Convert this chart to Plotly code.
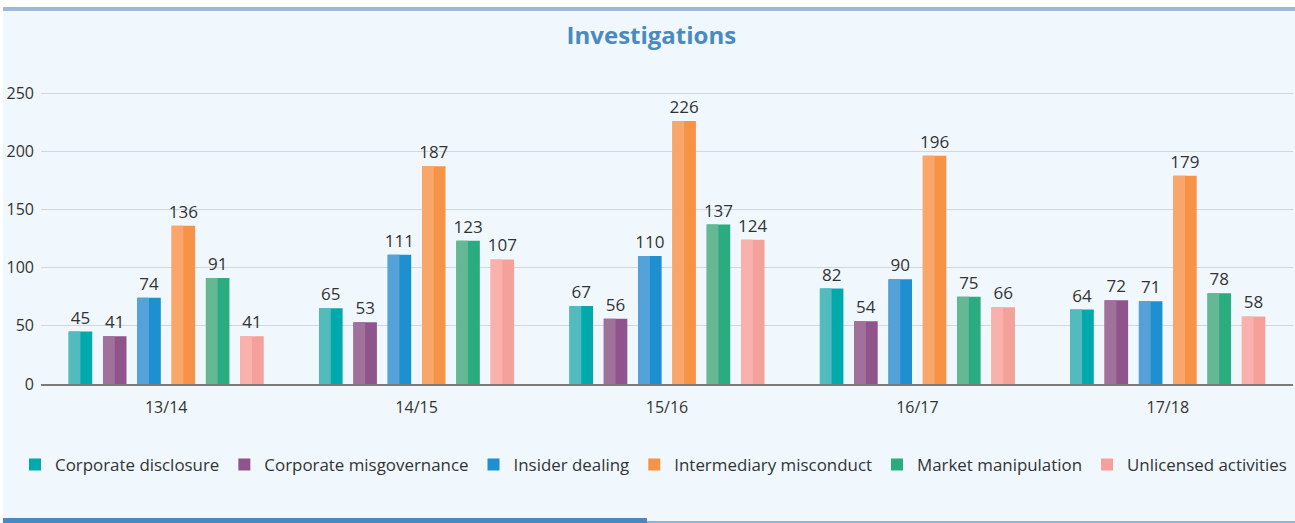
import plotly.graph_objects as go

categories = ["13/14", "14/15", "15/16", "16/17", "17/18"]
series_names = ["Corporate disclosure", "Corporate misgovernance", "Insider dealing",
                "Intermediary misconduct", "Market manipulation", "Unlicensed activities"]
corporate_disclosure = [45, 65, 67, 82, 64]
corporate_misgovernance = [41, 53, 56, 54, 72]
insider_dealing = [74, 111, 110, 90, 71]
intermediary_misconduct = [136, 187, 226, 196, 179]
market_manipulation = [91, 123, 137, 75, 78]
unlicensed_activities = [41, 107, 124, 66, 58]
y_ticks = [0, 50, 100, 150, 200, 250]

values = [corporate_disclosure, corporate_misgovernance, insider_dealing,
          intermediary_misconduct, market_manipulation, unlicensed_activities]
dark = ["#00A9AC", "#8F548B", "#1E90D0", "#F79346", "#2BAB80", "#F5A19B"]
light = ["#53BABE", "#A0729B", "#55A2DA", "#F9A66B", "#66B894", "#F8B1AC"]

FONT = "Open Sans"
TXT = "#333333"
W, H = 1295, 523
ML, MR, MT, MB = 41, 2, 80, 139
BW = 0.094
STEP = 0.137

xs = list(range(len(categories)))
fig = go.Figure()
for i, (name, vals) in enumerate(zip(series_names, values)):
    c = (i - 2.5) * STEP
    fig.add_trace(go.Bar(
        x=xs, y=vals, name=name, width=BW, offset=c - BW / 2,
        marker=dict(color=dark[i], line=dict(width=0)),
        text=[str(v) for v in vals], textposition="outside",
        textfont=dict(family=FONT, size=17, color=TXT),
        cliponaxis=False, hoverinfo="skip"))
for i, vals in enumerate(values):
    c = (i - 2.5) * STEP
    fig.add_trace(go.Bar(
        x=xs, y=vals, width=BW / 2, offset=c - BW / 2, showlegend=False,
        marker=dict(color=light[i], line=dict(width=0)), hoverinfo="skip"))

pw = W - ML - MR
ph = H - MT - MB
def px2x(p):
    return (p - ML) / pw
def py2y(p):
    return (H - MB - p) / ph

shapes = [
    dict(type="rect", xref="paper", yref="paper", x0=px2x(-5), x1=px2x(W + 5),
         y0=py2y(7), y1=py2y(-5), fillcolor="white", line=dict(width=0), layer="below"),
    dict(type="rect", xref="paper", yref="paper", x0=px2x(-5), x1=px2x(3),
         y0=py2y(H + 5), y1=py2y(-5), fillcolor="white", line=dict(width=0), layer="below"),
    dict(type="rect", xref="paper", yref="paper", x0=px2x(3), x1=px2x(W + 5),
         y0=py2y(11), y1=py2y(7), fillcolor="#9DB8D9", line=dict(width=0), layer="below"),
    dict(type="rect", xref="paper", yref="paper", x0=px2x(3), x1=px2x(647),
         y0=py2y(H + 5), y1=py2y(518), fillcolor="#4A88BE", line=dict(width=0), layer="below"),
    dict(type="rect", xref="paper", yref="paper", x0=px2x(647), x1=px2x(W + 5),
         y0=py2y(H + 5), y1=py2y(521), fillcolor="#8FB3D8", line=dict(width=0), layer="below"),
]

fig.update_layout(
    width=W, height=H,
    margin=dict(l=ML, r=MR, t=MT, b=MB),
    paper_bgcolor="#F0F8FE", plot_bgcolor="#F0F8FE",
    barmode="overlay",
    uniformtext=dict(minsize=17, mode="show"),
    title=dict(text="<b>Investigations</b>", x=0.503, xanchor="center", xref="container",
               y=1 - 36 / H, yanchor="middle", yref="container",
               font=dict(family=FONT, size=24, color="#4A8AC0")),
    font=dict(family=FONT, size=16, color=TXT),
    xaxis=dict(tickmode="array", tickvals=xs, ticktext=categories, range=[-0.5, 4.5],
               showgrid=False, zeroline=False, showline=True, linecolor="#7A7A7A",
               linewidth=2, ticks="", ticklabelstandoff=8,
               tickfont=dict(family=FONT, size=16, color=TXT)),
    yaxis=dict(tickmode="array", tickvals=y_ticks, range=[0, ph / 1.164],
               showgrid=True, gridcolor="#D3D7DA", gridwidth=1, zeroline=False,
               showline=False, ticks="", ticklabelstandoff=6,
               tickfont=dict(family=FONT, size=16, color=TXT)),
    legend=dict(orientation="h", xref="paper", x=px2x(15), xanchor="left",
                yref="paper", y=py2y(447), yanchor="top",
                font=dict(family=FONT, size=16.9, color=TXT), bgcolor="rgba(0,0,0,0)",
                itemwidth=30, tracegroupgap=0),
    shapes=shapes,
    showlegend=True,
)

fig.write_html("out.html", config={"displayModeBar": False},
               post_script="document.body.style.margin='0';document.body.style.overflow='hidden';")
